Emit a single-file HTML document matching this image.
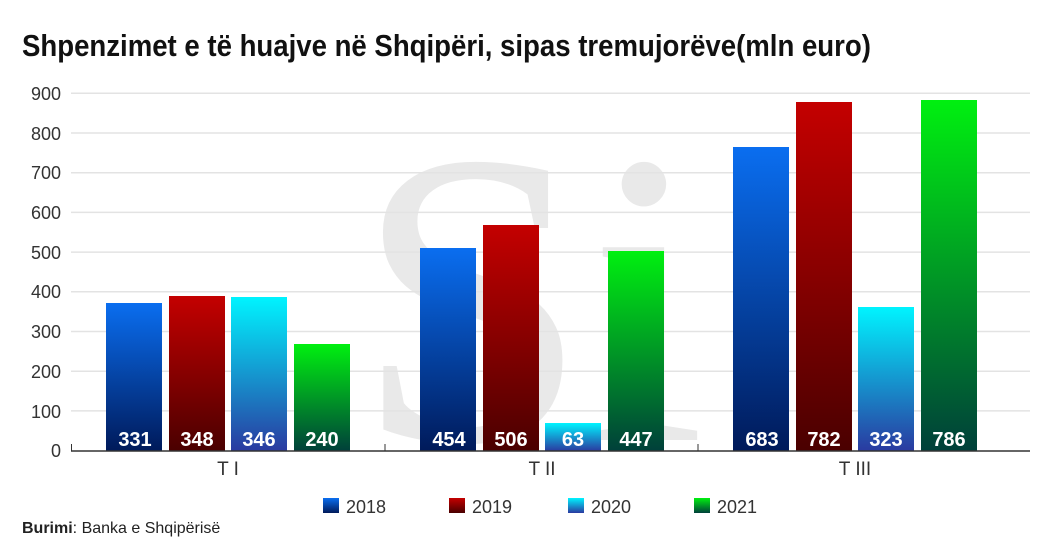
<!DOCTYPE html>
<html><head><meta charset="utf-8"><style>
body{margin:0;background:#fff;width:1043px;height:550px;overflow:hidden;font-family:"Liberation Sans",sans-serif}
</style></head><body>
<svg width="1043" height="550" xmlns="http://www.w3.org/2000/svg" font-family="Liberation Sans, sans-serif">
<defs>
<linearGradient id="b" x1="0" y1="0" x2="0" y2="1"><stop offset="0" stop-color="#0a6ef0"/><stop offset="1" stop-color="#001a5a"/></linearGradient>
<linearGradient id="r" x1="0" y1="0" x2="0" y2="1"><stop offset="0" stop-color="#c40000"/><stop offset="1" stop-color="#4a0000"/></linearGradient>
<linearGradient id="c" x1="0" y1="0" x2="0" y2="1"><stop offset="0" stop-color="#00f4ff"/><stop offset="1" stop-color="#2a3aa0"/></linearGradient>
<linearGradient id="g" x1="0" y1="0" x2="0" y2="1"><stop offset="0" stop-color="#00f010"/><stop offset="1" stop-color="#00403a"/></linearGradient>
</defs>
<text x="22" y="56" font-size="31" font-weight="bold" fill="#111" transform="translate(22 0) scale(0.89 1) translate(-22 0)">Shpenzimet e të huajve në Shqipëri, sipas tremujorëve(mln euro)</text>
<text x="530" y="440" font-size="420" font-family="Liberation Serif, serif" fill="#e9e9e9" text-anchor="middle">Si</text>
<g stroke="#e3e3e3" stroke-width="1.5">
<line x1="71" x2="1030" y1="93.3" y2="93.3"/><line x1="71" x2="1030" y1="133" y2="133"/><line x1="71" x2="1030" y1="172.7" y2="172.7"/><line x1="71" x2="1030" y1="212.4" y2="212.4"/><line x1="71" x2="1030" y1="252.1" y2="252.1"/><line x1="71" x2="1030" y1="291.8" y2="291.8"/><line x1="71" x2="1030" y1="331.5" y2="331.5"/><line x1="71" x2="1030" y1="371.2" y2="371.2"/><line x1="71" x2="1030" y1="410.9" y2="410.9"/>
</g>
<g font-size="18" fill="#333" text-anchor="end">
<text x="61" y="100">900</text><text x="61" y="140">800</text><text x="61" y="179">700</text><text x="61" y="219">600</text><text x="61" y="259">500</text><text x="61" y="298">400</text><text x="61" y="338">300</text><text x="61" y="378">200</text><text x="61" y="418">100</text><text x="61" y="457">0</text>
</g>
<rect x="106" y="303" width="56" height="148" fill="url(#b)"/>
<rect x="169" y="296" width="56" height="155" fill="url(#r)"/>
<rect x="231" y="297" width="56" height="154" fill="url(#c)"/>
<rect x="294" y="344" width="56" height="107" fill="url(#g)"/>
<rect x="420" y="248" width="56" height="203" fill="url(#b)"/>
<rect x="483" y="225" width="56" height="226" fill="url(#r)"/>
<rect x="545" y="423" width="56" height="28" fill="url(#c)"/>
<rect x="608" y="251" width="56" height="200" fill="url(#g)"/>
<rect x="733" y="147" width="56" height="304" fill="url(#b)"/>
<rect x="796" y="102" width="56" height="349" fill="url(#r)"/>
<rect x="858" y="307" width="56" height="144" fill="url(#c)"/>
<rect x="921" y="100" width="56" height="351" fill="url(#g)"/>
<g font-size="20" font-weight="bold" fill="#fff" text-anchor="middle">
<text x="135" y="446">331</text><text x="197" y="446">348</text><text x="259" y="446">346</text><text x="322" y="446">240</text>
<text x="449" y="446">454</text><text x="511" y="446">506</text><text x="573" y="446">63</text><text x="636" y="446">447</text>
<text x="762" y="446">683</text><text x="824" y="446">782</text><text x="886" y="446">323</text><text x="949" y="446">786</text>
</g>
<line x1="71" x2="1030" y1="451" y2="451" stroke="#333" stroke-width="1.5"/>
<g stroke="#333" stroke-width="1"><line x1="71.5" x2="71.5" y1="444" y2="451"/><line x1="385" x2="385" y1="444" y2="451"/><line x1="698" x2="698" y1="444" y2="451"/></g>
<g font-size="19" fill="#333" text-anchor="middle">
<text x="228" y="475">T I</text><text x="542" y="475">T II</text><text x="855" y="475">T III</text>
</g>
<rect x="323" y="498" width="16" height="15" fill="url(#b)"/><text x="346" y="513" font-size="18" fill="#333">2018</text>
<rect x="449" y="498" width="16" height="15" fill="url(#r)"/><text x="472" y="513" font-size="18" fill="#333">2019</text>
<rect x="568" y="498" width="16" height="15" fill="url(#c)"/><text x="591" y="513" font-size="18" fill="#333">2020</text>
<rect x="694" y="498" width="16" height="15" fill="url(#g)"/><text x="717" y="513" font-size="18" fill="#333">2021</text>
<text x="22" y="533" font-size="16" fill="#222"><tspan font-weight="bold">Burimi</tspan>: Banka e Shqipërisë</text>
</svg>
</body></html>
